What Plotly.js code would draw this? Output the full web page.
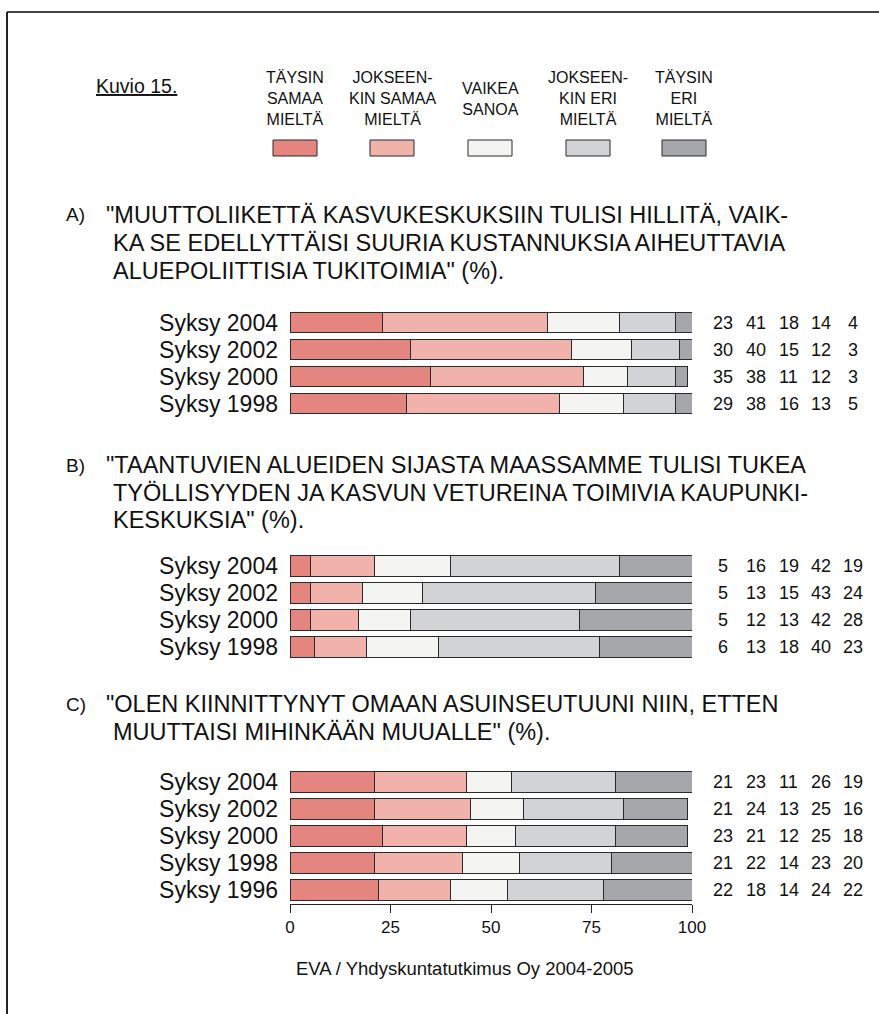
<!DOCTYPE html>
<html><head><meta charset="utf-8">
<script src="https://cdn.plot.ly/plotly-3.0.1.min.js"></script>
<style>html,body{margin:0;padding:0;background:#fff}</style>
</head><body>
<div id="chart" style="width:879px;height:1014px"></div>
<script>
// ---------- DATA ----------
const figureLabel = 'Kuvio 15.';
const responseLabels = ['TÄYSIN<br>SAMAA<br>MIELTÄ', 'JOKSEEN-<br>KIN SAMAA<br>MIELTÄ', 'VAIKEA<br>SANOA', 'JOKSEEN-<br>KIN ERI<br>MIELTÄ', 'TÄYSIN<br>ERI<br>MIELTÄ'];
const responseColors = ['#E4867F', '#F0B2AA', '#F4F5F3', '#D2D3D5', '#A6A7AA'];

const letterA = 'A)';
const titleA = ['"MUUTTOLIIKETTÄ KASVUKESKUKSIIN TULISI HILLITÄ, VAIK-', 'KA SE EDELLYTTÄISI SUURIA KUSTANNUKSIA AIHEUTTAVIA', 'ALUEPOLIITTISIA TUKITOIMIA" (%).'];
const rowsA = ['Syksy 2004', 'Syksy 2002', 'Syksy 2000', 'Syksy 1998'];
const valuesA = [[23, 41, 18, 14, 4], [30, 40, 15, 12, 3], [35, 38, 11, 12, 3], [29, 38, 16, 13, 5]];

const letterB = 'B)';
const titleB = ['"TAANTUVIEN ALUEIDEN SIJASTA MAASSAMME TULISI TUKEA', 'TYÖLLISYYDEN JA KASVUN VETUREINA TOIMIVIA KAUPUNKI-', 'KESKUKSIA" (%).'];
const rowsB = ['Syksy 2004', 'Syksy 2002', 'Syksy 2000', 'Syksy 1998'];
const valuesB = [[5, 16, 19, 42, 19], [5, 13, 15, 43, 24], [5, 12, 13, 42, 28], [6, 13, 18, 40, 23]];

const letterC = 'C)';
const titleC = ['"OLEN KIINNITTYNYT OMAAN ASUINSEUTUUNI NIIN, ETTEN', 'MUUTTAISI MIHINKÄÄN MUUALLE" (%).'];
const rowsC = ['Syksy 2004', 'Syksy 2002', 'Syksy 2000', 'Syksy 1998', 'Syksy 1996'];
const valuesC = [[21, 23, 11, 26, 19], [21, 24, 13, 25, 16], [23, 21, 12, 25, 18], [21, 22, 14, 23, 20], [22, 18, 14, 24, 22]];

const xTicks = [0, 25, 50, 75, 100];
const sourceText = 'EVA / Yhdyskuntatutkimus Oy 2004-2005';

// ---------- LAYOUT HELPERS ----------
const W = 879, H = 1014;
const FONT = 'Liberation Sans, Arial, Helvetica, sans-serif';
const TXT = '#111';
const px = x => x / W;
const py = y => 1 - y / H;

const sections = [
  {rows: rowsA, vals: valuesA, letter: letterA, title: titleA, yaxis: 'y', top: 309, titleY: [215, 243, 271]},
  {rows: rowsB, vals: valuesB, letter: letterB, title: titleB, yaxis: 'y2', top: 552.5, titleY: [465, 493, 520]},
  {rows: rowsC, vals: valuesC, letter: letterC, title: titleC, yaxis: 'y3', top: 768.5, titleY: [704, 732]}
];
const ROW = 27;
const valueCols = [723, 756, 788.5, 820.5, 853];
const legendCols = [295, 392, 490, 588, 684];

const traces = [];
const annotations = [];
const shapes = [];
const layout = {
  width: W, height: H,
  margin: {l: 0, r: 0, t: 0, b: 0},
  paper_bgcolor: '#fff', plot_bgcolor: 'rgba(0,0,0,0)',
  barmode: 'stack', bargap: 0.24,
  showlegend: false,
  font: {family: FONT, color: TXT},
  xaxis: {
    domain: [px(290), px(692)], range: [0, 100], anchor: 'y3',
    tickmode: 'array', tickvals: xTicks, ticktext: xTicks.map(String),
    ticks: 'outside', ticklen: 8, tickwidth: 1, tickcolor: '#222',
    showline: true, linecolor: '#222', linewidth: 1,
    showgrid: false, zeroline: false, fixedrange: true,
    tickfont: {size: 17, color: TXT, family: FONT}
  }
};

sections.forEach((s, si) => {
  const n = s.rows.length;
  const axName = si === 0 ? 'yaxis' : 'yaxis' + (si + 1);
  layout[axName] = {
    domain: [py(s.top + n * ROW), py(s.top)], anchor: 'x',
    type: 'category', categoryorder: 'array', categoryarray: s.rows,
    tickmode: 'array', tickvals: s.rows, ticktext: s.rows,
    range: [n - 0.5, -0.5],
    showgrid: false, zeroline: false, showline: false, ticks: '',
    ticklabelstandoff: 11,
    tickfont: {size: 23, color: TXT, family: FONT}, fixedrange: true
  };
  for (let k = 0; k < 5; k++) {
    traces.push({
      type: 'bar', orientation: 'h', xaxis: 'x', yaxis: s.yaxis,
      y: s.rows, x: s.vals.map(r => r[k]),
      marker: {color: responseColors[k], line: {color: '#2a2a2a', width: 1}},
      hoverinfo: 'skip'
    });
  }
  // values text
  s.vals.forEach((r, ri) => {
    r.forEach((v, k) => {
      annotations.push({
        xref: 'paper', yref: s.yaxis, x: px(valueCols[k]), y: ri,
        text: String(v), showarrow: false, xanchor: 'center', yanchor: 'middle',
        font: {size: 18, color: TXT, family: FONT}
      });
    });
  });
  // titles
  annotations.push({
    xref: 'paper', yref: 'paper', x: px(64), y: py(s.titleY[0]),
    text: s.letter, showarrow: false, xanchor: 'left', yanchor: 'middle',
    font: {size: 19, color: TXT, family: FONT}
  });
  s.title.forEach((t, ti) => {
    annotations.push({
      xref: 'paper', yref: 'paper', x: px(ti === 0 ? 104 : 110.5), y: py(s.titleY[ti]),
      text: t, showarrow: false, xanchor: 'left', yanchor: 'middle',
      font: {size: 23.5, color: TXT, family: FONT}
    });
  });
});

// legend
responseLabels.forEach((lab, k) => {
  annotations.push({
    xref: 'paper', yref: 'paper', x: px(legendCols[k]), y: py(99),
    text: lab, showarrow: false, xanchor: 'center', yanchor: 'middle', align: 'center',
    font: {size: 16, color: TXT, family: FONT}
  });
  shapes.push({
    type: 'rect', xref: 'paper', yref: 'paper',
    x0: px(legendCols[k] - 22), x1: px(legendCols[k] + 22), y0: py(156), y1: py(140),
    fillcolor: responseColors[k], line: {color: '#2a2a2a', width: 1}
  });
});
annotations.push({
  xref: 'paper', yref: 'paper', x: px(94), y: py(86),
  text: '<u>' + figureLabel + '</u>', showarrow: false, xanchor: 'left', yanchor: 'middle',
  font: {size: 19.5, color: TXT, family: FONT}
});
annotations.push({
  xref: 'paper', yref: 'paper', x: px(465), y: py(968),
  text: sourceText, showarrow: false, xanchor: 'center', yanchor: 'middle',
  font: {size: 18.5, color: TXT, family: FONT}
});

// frame
shapes.push({type: 'line', xref: 'paper', yref: 'paper', x0: px(7), x1: 1, y0: py(12), y1: py(12), line: {color: '#444', width: 2}});
shapes.push({type: 'line', xref: 'paper', yref: 'paper', x0: px(7), x1: px(7), y0: py(12), y1: 0, line: {color: '#222', width: 2}});

layout.annotations = annotations;
layout.shapes = shapes;

Plotly.newPlot('chart', traces, layout, {staticPlot: true, displayModeBar: false});
</script>
</body></html>
